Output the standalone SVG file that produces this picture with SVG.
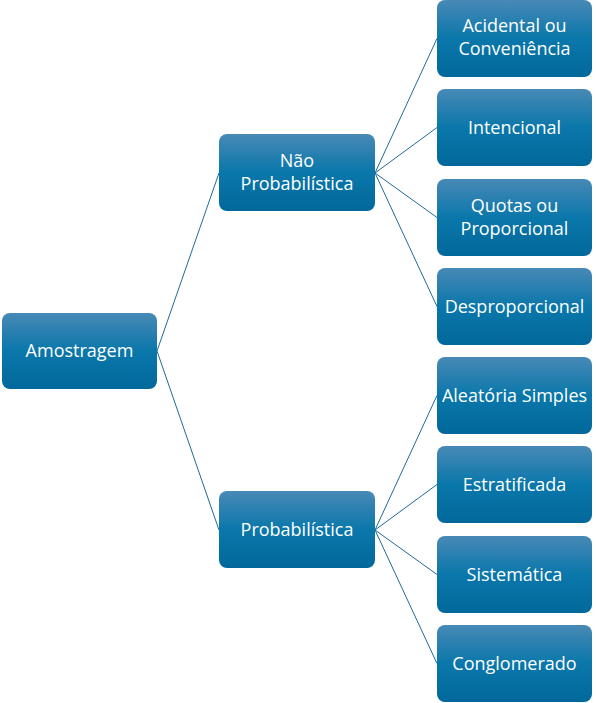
<svg xmlns="http://www.w3.org/2000/svg" width="596" height="703" viewBox="0 0 596 703">
<defs>
<linearGradient id="g" x1="0" y1="0" x2="0" y2="1">
<stop offset="0" stop-color="#4889b6"/>
<stop offset="0.5" stop-color="#0a77aa"/>
<stop offset="1" stop-color="#02689b"/>
</linearGradient>
</defs>
<style>
.box{fill:url(#g);}
.t{fill:#ffffff;font-family:"Open Sans","Liberation Sans",sans-serif;font-size:18px;text-anchor:middle;dominant-baseline:central;}
.c line{stroke:#1f6a96;stroke-width:1;}
</style>
<rect width="596" height="703" fill="#ffffff"/>
<g class="c" id="connectors">
<line x1="157" y1="351" x2="219" y2="173"/>
<line x1="157" y1="351" x2="219" y2="530"/>
<line x1="375" y1="173" x2="437" y2="38.5"/>
<line x1="375" y1="173" x2="437" y2="127.5"/>
<line x1="375" y1="173" x2="437" y2="217.5"/>
<line x1="375" y1="173" x2="437" y2="306.5"/>
<line x1="375" y1="530" x2="437" y2="395.5"/>
<line x1="375" y1="530" x2="437" y2="484.5"/>
<line x1="375" y1="530" x2="437" y2="574.5"/>
<line x1="375" y1="530" x2="437" y2="663.5"/>
</g>
<g id="amostragem"><rect class="box" x="2" y="313" width="155" height="76" rx="8"/><text class="t" x="79.5" y="350">Amostragem</text></g>
<g id="nao-prob"><rect class="box" x="219" y="134" width="156" height="77" rx="8"/><text class="t" x="297" y="160">Não</text><text class="t" x="297" y="183">Probabilística</text></g>
<g id="prob"><rect class="box" x="219" y="491" width="156" height="77" rx="8"/><text class="t" x="297" y="529">Probabilística</text></g>
<g id="acidental"><rect class="box" x="437" y="0" width="155" height="77" rx="8"/><text class="t" x="514.5" y="25">Acidental ou</text><text class="t" x="514.5" y="48">Conveniência</text></g>
<g id="intencional"><rect class="box" x="437" y="89" width="155" height="77" rx="8"/><text class="t" x="514.5" y="126.5">Intencional</text></g>
<g id="quotas"><rect class="box" x="437" y="179" width="155" height="77" rx="8"/><text class="t" x="514.5" y="205">Quotas ou</text><text class="t" x="514.5" y="228">Proporcional</text></g>
<g id="desproporcional"><rect class="box" x="437" y="268" width="155" height="77" rx="8"/><text class="t" x="514.5" y="305.5">Desproporcional</text></g>
<g id="aleatoria"><rect class="box" x="437" y="357" width="155" height="77" rx="8"/><text class="t" x="514.5" y="394.5">Aleatória Simples</text></g>
<g id="estratificada"><rect class="box" x="437" y="446" width="155" height="77" rx="8"/><text class="t" x="514.5" y="483.5">Estratificada</text></g>
<g id="sistematica"><rect class="box" x="437" y="536" width="155" height="77" rx="8"/><text class="t" x="514.5" y="573.5">Sistemática</text></g>
<g id="conglomerado"><rect class="box" x="437" y="625" width="155" height="77" rx="8"/><text class="t" x="514.5" y="662.5">Conglomerado</text></g>
</svg>
